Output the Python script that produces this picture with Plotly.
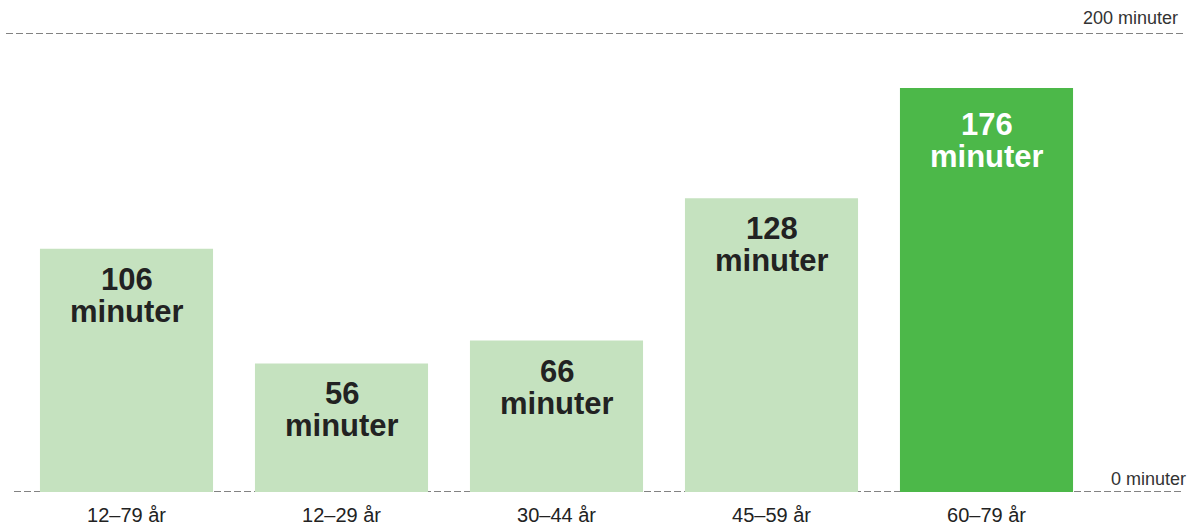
import plotly.graph_objects as go

# Daily minutes per age group
categories = ["12–79 år", "12–29 år", "30–44 år", "45–59 år", "60–79 år"]
minutes = [106, 56, 66, 128, 176]
highlight = [False, False, False, False, True]

light_green = "#c5e2bf"
strong_green = "#4cb849"
bar_colors = [strong_green if h else light_green for h in highlight]

W, H = 1190, 525
m_l, m_r, m_t, m_b = 19, 96, 33, 33
y_max = 200
plot_w = W - m_l - m_r

fig = go.Figure()
fig.add_trace(go.Bar(
    x=categories,
    y=minutes,
    marker=dict(color=bar_colors, line=dict(width=0)),
    hoverinfo="skip",
))

label_font = "Liberation Sans, Arial, Helvetica, sans-serif"
box_h = 30
annotations = []
for cat, val, h in zip(categories, minutes, highlight):
    col = "#ffffff" if h else "#222222"
    extra = -6 if h else 0
    annotations.append(dict(
        x=cat, y=val, xref="x", yref="y", yanchor="top", yshift=-13 + extra,
        height=box_h, valign="middle",
        text=f"<b>{val}</b>", showarrow=False,
        font=dict(family=label_font, size=31, color=col),
    ))
    annotations.append(dict(
        x=cat, y=val, xref="x", yref="y", yanchor="top", yshift=-45 + extra,
        height=box_h, valign="middle",
        text="<b>minuter</b>", showarrow=False,
        font=dict(family=label_font, size=31, color=col),
    ))

# Reference line labels
annotations.append(dict(
    x=(1180 - m_l) / plot_w, y=y_max, xref="paper", yref="y",
    xanchor="right", yanchor="bottom", yshift=3,
    text="200 minuter", showarrow=False,
    font=dict(family=label_font, size=18, color="#333333"),
))
annotations.append(dict(
    x=(1188 - m_l) / plot_w, y=0, xref="paper", yref="y",
    xanchor="right", yanchor="bottom", yshift=1,
    text="0 minuter", showarrow=False,
    font=dict(family=label_font, size=18, color="#333333"),
))

dash_line = dict(color="#5a5a5a", width=1.5, dash="7px,3px")
shapes = [
    dict(type="line", xref="paper", yref="y",
         x0=(6 - m_l) / plot_w, x1=(1183 - m_l) / plot_w, y0=y_max, y1=y_max,
         line=dash_line),
    dict(type="line", xref="paper", yref="y",
         x0=(14 - m_l) / plot_w, x1=(1183 - m_l) / plot_w, y0=0, y1=0,
         line=dash_line, layer="below"),
]

fig.update_layout(
    width=W, height=H,
    margin=dict(l=m_l, r=m_r, t=m_t, b=m_b, pad=0),
    paper_bgcolor="white", plot_bgcolor="white",
    bargap=0.195,
    showlegend=False,
    annotations=annotations,
    shapes=shapes,
    xaxis=dict(showgrid=False, zeroline=False, showline=False, ticks="",
               tickfont=dict(family=label_font, size=20, color="#222222"),
               ticklabelstandoff=9, automargin=False, fixedrange=True),
    yaxis=dict(range=[0, y_max], showgrid=False, zeroline=False,
               showticklabels=False, showline=False, automargin=False,
               fixedrange=True),
)

fig.write_html("out.html")
